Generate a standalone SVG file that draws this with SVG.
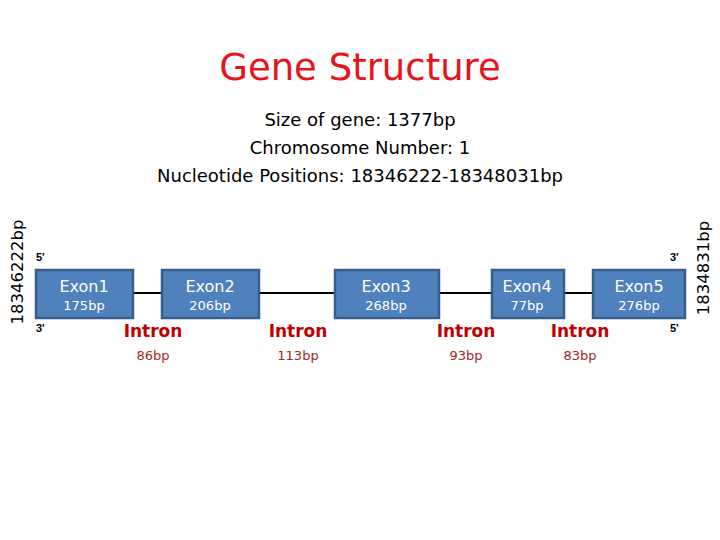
<svg xmlns="http://www.w3.org/2000/svg" width="720" height="540" viewBox="0 0 720 540">
<style>
.exon{fill:#4F81BD;stroke:#385D8A;stroke-width:2.5}
.ename{font-family:"DejaVu Sans",sans-serif;font-size:16px;fill:#fff;text-anchor:middle}
.ebp{font-family:"DejaVu Sans",sans-serif;font-size:13px;fill:#fff;text-anchor:middle}
.intron{font-family:"DejaVu Sans",sans-serif;font-size:17px;font-weight:bold;fill:#C00000;text-anchor:middle}
.ibp{font-family:"DejaVu Sans",sans-serif;font-size:13px;fill:#A0282A;text-anchor:middle}
.end{font-family:"Liberation Sans",sans-serif;font-size:11px;font-weight:bold;fill:#000}
.side{font-family:"DejaVu Sans",sans-serif;font-size:16.5px;fill:#000;text-anchor:middle}
.info{font-family:"DejaVu Sans",sans-serif;font-size:18px;fill:#000;text-anchor:middle}
.conn{stroke:#000;stroke-width:2;fill:none}
</style>
<rect width="720" height="540" fill="#fff"/>
<text x="360" y="80" font-family="DejaVu Sans,sans-serif" font-size="37" fill="#E8141C" text-anchor="middle">Gene Structure</text>
<text class="info" x="360" y="126">Size of gene: 1377bp</text>
<text class="info" x="360" y="154">Chromosome Number: 1</text>
<text class="info" x="360" y="182">Nucleotide Positions: 18346222-18348031bp</text>
<text class="side" transform="translate(23,272) rotate(-90)">18346222bp</text>
<text class="side" transform="translate(709,268) rotate(-90)">1834831bp</text>
<g id="connectors">
<line class="conn" x1="133" y1="293" x2="162" y2="293"/>
<line class="conn" x1="259" y1="293" x2="335" y2="293"/>
<line class="conn" x1="439" y1="293" x2="492" y2="293"/>
<line class="conn" x1="564" y1="293" x2="593" y2="293"/>
</g>
<g id="exon1"><rect class="exon" x="36" y="270" width="97" height="48"/><text class="ename" x="84" y="292">Exon1</text><text class="ebp" x="84" y="310">175bp</text></g>
<g id="exon2"><rect class="exon" x="162" y="270" width="97" height="48"/><text class="ename" x="210" y="292">Exon2</text><text class="ebp" x="210" y="310">206bp</text></g>
<g id="exon3"><rect class="exon" x="335" y="270" width="104" height="48"/><text class="ename" x="386" y="292">Exon3</text><text class="ebp" x="386" y="310">268bp</text></g>
<g id="exon4"><rect class="exon" x="492" y="270" width="72" height="48"/><text class="ename" x="527" y="292">Exon4</text><text class="ebp" x="527" y="310">77bp</text></g>
<g id="exon5"><rect class="exon" x="593" y="270" width="92" height="48"/><text class="ename" x="639" y="292">Exon5</text><text class="ebp" x="639" y="310">276bp</text></g>
<g id="intron1"><text class="intron" x="153" y="337">Intron</text><text class="ibp" x="153" y="360">86bp</text></g>
<g id="intron2"><text class="intron" x="298" y="337">Intron</text><text class="ibp" x="298" y="360">113bp</text></g>
<g id="intron3"><text class="intron" x="466" y="337">Intron</text><text class="ibp" x="466" y="360">93bp</text></g>
<g id="intron4"><text class="intron" x="580" y="337">Intron</text><text class="ibp" x="580" y="360">83bp</text></g>
<text class="end" x="36" y="261">5'</text>
<text class="end" x="36" y="332">3'</text>
<text class="end" x="670" y="261">3'</text>
<text class="end" x="670" y="332">5'</text>
</svg>
